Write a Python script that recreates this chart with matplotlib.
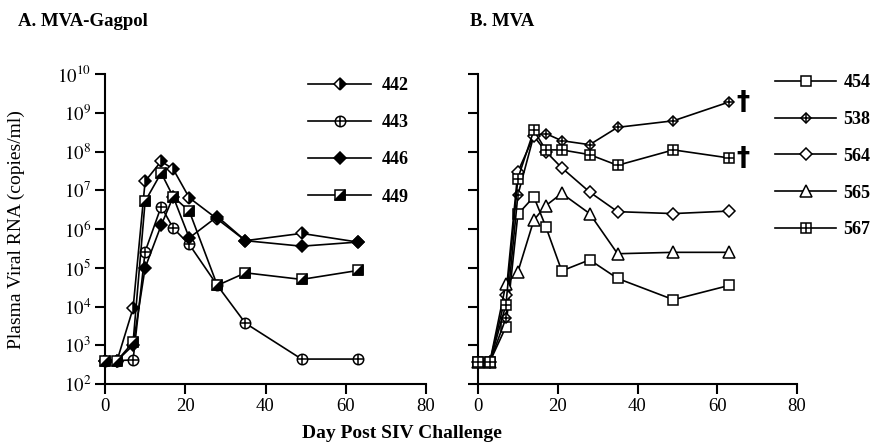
import matplotlib
matplotlib.use('Agg')
import matplotlib.pyplot as plt
from matplotlib.legend_handler import HandlerTuple
from matplotlib.path import Path

plt.rcParams['font.family'] = ['Liberation Serif', 'DejaVu Serif']
plt.rcParams['mathtext.fontset'] = 'stix'

# ---------------- data ----------------
days = [0, 3, 7, 10, 14, 17, 21, 28, 35, 49, 63]

a_labels = ['442', '443', '446', '449']
a442 = [400, 400, 9.0e3, 1.7e7, 5.6e7, 3.5e7, 6.4e6, 1.8e6, 5.0e5, 7.7e5, 4.6e5]
a443 = [400, 400, 420, 2.6e5, 3.8e6, 1.05e6, 4.0e5, 3.5e4, 3.7e3, 440, 440]
a446 = [400, 400, 1.0e3, 1.0e5, 1.25e6, 6.8e6, 5.9e5, 2.1e6, 5.0e5, 3.6e5, 4.6e5]
a449 = [400, 400, 1.2e3, 5.2e6, 2.8e7, 6.8e6, 2.9e6, 3.5e4, 7.4e4, 5.0e4, 8.5e4]

b_labels = ['454', '538', '564', '565', '567']
b454 = [380, 380, 3.0e3, 2.4e6, 6.8e6, 1.15e6, 8.3e4, 1.6e5, 5.3e4, 1.5e4, 3.5e4]
b538 = [380, 380, 5.0e3, 7.5e6, 2.6e8, 2.9e8, 1.9e8, 1.5e8, 4.2e8, 6.2e8, 1.9e9]
b564 = [380, 380, 2.0e4, 3.0e7, 2.5e8, 1.0e8, 3.8e7, 9.0e6, 2.8e6, 2.5e6, 2.9e6]
b565 = [380, 380, 3.8e4, 7.8e4, 1.7e6, 4.0e6, 8.3e6, 2.5e6, 2.3e5, 2.5e5, 2.5e5]
b567 = [380, 380, 1.1e4, 2.0e7, 3.5e8, 1.1e8, 1.1e8, 8.3e7, 4.4e7, 1.1e8, 6.8e7]
b_dead = ['538', '567']

xticks = [0, 20, 40, 60, 80]
ytick_exps = [2, 3, 4, 5, 6, 7, 8, 9, 10]
ytick_labels = ['$10^{%d}$' % e for e in ytick_exps]

# ---------------- styles ----------------
tri = Path([(-1, -1), (1, -1), (1, 1), (-1, -1)],
           [Path.MOVETO, Path.LINETO, Path.LINETO, Path.CLOSEPOLY])
MEW = 1.1
styles = {
    '442': [dict(marker='D', ms=5.8, fillstyle='right', mfc='k', mfcalt='w', mec='k')],
    '443': [dict(marker='o', ms=7.5, mfc='w', mec='k'),
            dict(marker='+', ms=7.5, mec='k')],
    '446': [dict(marker='D', ms=5.8, mfc='k', mec='k')],
    '449': [dict(marker='s', ms=7.5, mfc='w', mec='k'),
            dict(marker=tri, ms=7.5, mfc='k', mec='k')],
    '454': [dict(marker='s', ms=7.5, mfc='w', mec='k')],
    '538': [dict(marker='D', ms=5.0, mfc='w', mec='k'),
            dict(marker='+', ms=6.5, mec='k')],
    '564': [dict(marker='D', ms=5.8, mfc='w', mec='k')],
    '565': [dict(marker='^', ms=8.5, mfc='w', mec='k')],
    '567': [dict(marker='s', ms=7.5, mfc='w', mec='k'),
            dict(marker='+', ms=7.5, mec='k')],
}


def draw(ax, label, yvals, z):
    layers = styles[label]
    handles = []
    for i, st in enumerate(layers):
        if i == 0:
            h, = ax.plot(days, yvals, color='k', lw=1.2, mew=MEW, clip_on=False,
                         zorder=z, **st)
        else:
            h, = ax.plot(days, yvals, ls='none', mew=MEW, clip_on=False,
                         zorder=z + 0.1, **st)
        handles.append(h)
    return tuple(handles)


fig = plt.figure(figsize=(8.74, 4.45), dpi=100)
W, H = 874.0, 445.0
top_px, bot_px = 74.0, 384.0
axA = fig.add_axes([105 / W, 1 - bot_px / H, (426 - 105) / W, (bot_px - top_px) / H])
axB = fig.add_axes([478 / W, 1 - bot_px / H, (797 - 478) / W, (bot_px - top_px) / H])

for ax in (axA, axB):
    ax.set_yscale('log')
    ax.set_xlim(0, 80)
    ax.set_ylim(1e2, 1e10)
    ax.set_xticks(xticks)
    ax.set_xticklabels([str(t) for t in xticks])
    ax.set_yticks([10.0 ** e for e in ytick_exps])
    ax.yaxis.set_minor_locator(matplotlib.ticker.NullLocator())
    for s in ('top', 'right'):
        ax.spines[s].set_visible(False)
    for s in ('left', 'bottom'):
        ax.spines[s].set_linewidth(1.5)
    ax.tick_params(direction='out', length=7, width=1.5, labelsize=13.5, pad=3)
    ax.patch.set_alpha(0)

axA.set_yticklabels(ytick_labels)
axB.set_yticklabels([])

a_series = dict(zip(a_labels, [a442, a443, a446, a449]))
b_series = dict(zip(b_labels, [b454, b538, b564, b565, b567]))

hA = []
for i, lab in enumerate(a_labels):
    hA.append(draw(axA, lab, a_series[lab], 3 + i))
hB = []
for i, lab in enumerate(b_labels):
    hB.append(draw(axB, lab, b_series[lab], 3 + i))

for lab in b_dead:
    axB.annotate('\u2020', xy=(days[-1], b_series[lab][-1]), xytext=(5, -1),
                 textcoords='offset points', ha='left', va='center',
                 fontsize=19, fontweight='bold', family='DejaVu Sans')

hmap = {tuple: HandlerTuple(ndivide=1, pad=0)}
legA = axA.legend(hA, a_labels, handler_map=hmap,
                  loc='upper left', bbox_to_anchor=(308 / W, 1 - 77 / H),
                  bbox_transform=fig.transFigure, frameon=False, numpoints=1,
                  handlelength=3.5, handletextpad=0.6, labelspacing=1.12,
                  borderpad=0, borderaxespad=0,
                  prop={'weight': 'bold', 'size': 13})
legB = axB.legend(hB, b_labels, handler_map=hmap,
                  loc='upper left', bbox_to_anchor=(775 / W, 1 - 74 / H),
                  bbox_transform=fig.transFigure, frameon=False, numpoints=1,
                  handlelength=3.4, handletextpad=0.4, labelspacing=1.1,
                  borderpad=0, borderaxespad=0,
                  prop={'weight': 'bold', 'size': 13})

fig.text(18 / W, 1 - 22 / H, 'A. MVA-Gagpol', fontsize=13.5, fontweight='bold',
         ha='left', va='center')
fig.text(470 / W, 1 - 22 / H, 'B. MVA', fontsize=13.5, fontweight='bold',
         ha='left', va='center')
fig.text(16 / W, 1 - 230 / H, 'Plasma Viral RNA (copies/ml)', fontsize=14,
         rotation=90, ha='center', va='center')
fig.text(402 / W, 1 - 433 / H, 'Day Post SIV Challenge', fontsize=14,
         fontweight='bold', ha='center', va='center')

fig.savefig('out.png', dpi=100)
